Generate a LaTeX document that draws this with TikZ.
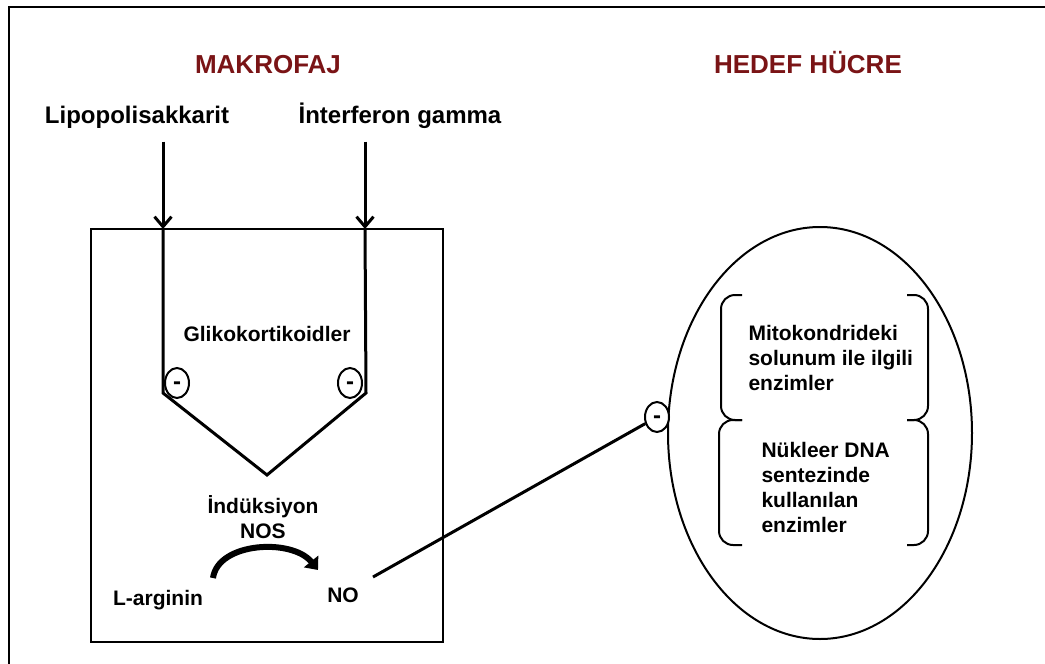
\documentclass[tikz,border=0pt]{standalone}
\usepackage{fontspec}
\setmainfont{Liberation Sans}
\usetikzlibrary{arrows.meta,positioning,shapes.geometric}
\definecolor{titlered}{RGB}{122,20,22}

\begin{document}
\begin{tikzpicture}[x=1pt,y=-1pt,
    title/.style={font=\fontsize{26}{30}\selectfont\bfseries,text=titlered,anchor=base},
    biglabel/.style={font=\fontsize{24}{28}\selectfont\bfseries,anchor=base},
    label/.style={font=\fontsize{21}{25}\selectfont\bfseries,anchor=base},
    minus/.style={ellipse,draw,line width=2pt,fill=white,inner sep=0pt,
                  minimum width=24pt,minimum height=30pt,
                  text height=13.2pt,text depth=0pt,
                  font=\fontsize{24}{24}\selectfont\bfseries},
    thick line/.style={line width=3pt},
    inarrow/.style={line width=3pt,-{Straight Barb[length=10pt,width=17pt,line width=3pt]}}]
%
  \useasboundingbox (0,0) rectangle (1045,664) ;
  \draw [line width=2pt] (9,664) |- (1045,7) ;
%
  % titles
  \node [title] (mak) at (268,73) {MAKROFAJ} ;
  \node [title] (hed) at (808,73) {HEDEF HÜCRE} ;
%
  % makrofaj
  \node [biglabel] (lps) at (137,123) {Lipopolisakkarit} ;
  \node [biglabel] (ifn) at (400,123) {İnterferon gamma} ;
  \draw [line width=2pt] (91,229) rectangle (443,642) ;
  \coordinate (lin) at (163,229) ;
  \coordinate (rin) at (365,229) ;
  \coordinate (lbot) at (163,393) ;
  \coordinate (rbot) at (366,393) ;
  \coordinate (tip) at (267,475) ;
  \draw [inarrow] (lps.south -| lin) ++(0,10) -- (lin) ;
  \draw [inarrow] (ifn.south -| rin) ++(0,10) -- (rin) ;
  \draw [thick line,line join=miter] (lin) -- (lbot) -- (tip) -- (rbot) -- (rin) ;
  \node [minus] (lm) at (177,383) {-} ;
  \node [minus] (rm) at (350,383) {-} ;
  \node [label] (gli) at (267,341) {Glikokortikoidler} ;
%
  % last line sits on the base anchor
  \node [label,align=center] (nos) at (263,538) {İndüksiyon\\NOS} ;
  \node [label] (arg) at (158,605) {L-arginin} ;
  \node [label] (no) at (343,602) {NO} ;
  \draw [line width=6pt,-{Triangle[length=11pt,width=18pt]}]
    (213,578) .. controls (218,542) and (292,538) .. (318,570) ;
%
  % hedef hucre
  \node [draw,ellipse,line width=2pt,minimum width=304pt,minimum height=412pt]
    (cell) at (820,433) {} ;
  \node [minus] (cm) at (657,417) {-} ;
  \draw [thick line] (373,577) -- (cm) ;
  \draw [line width=2pt,rounded corners=14pt] (742,295) -- (721,295) -- (721,420) -- (742,420) ;
  \draw [line width=2pt,rounded corners=14pt] (742,420) -- (719,420) -- (719,545) -- (742,545) ;
  \draw [line width=2pt,rounded corners=14pt] (907,295) -- (928,295) -- (928,420) -- (907,420) ;
  \draw [line width=2pt,rounded corners=14pt] (907,420) -- (928,420) -- (928,545) -- (907,545) ;
  \node [label,anchor=base west,align=left] (mito) at (745,390)
    {Mitokondrideki\\solunum ile ilgili\\enzimler} ;
  \node [label,anchor=base west,align=left] (dna) at (758,532)
    {Nükleer DNA\\sentezinde\\kullanılan\\enzimler} ;
%
\end{tikzpicture}
\end{document}
